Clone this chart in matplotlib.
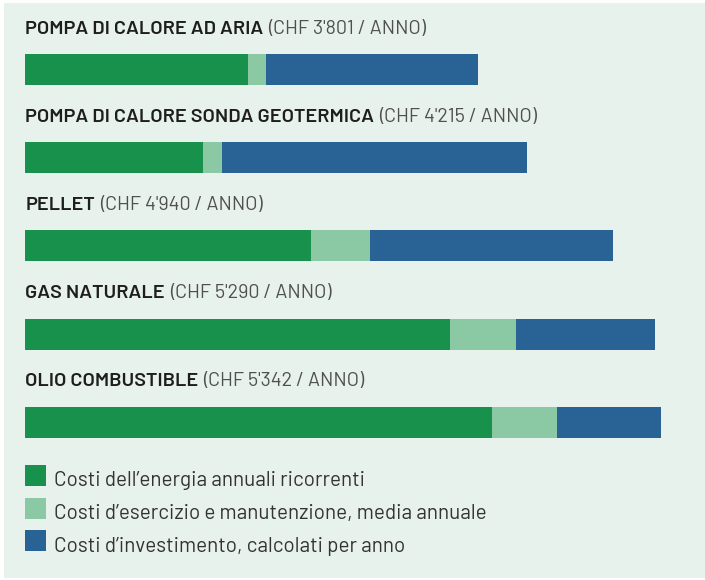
import matplotlib
matplotlib.use("Agg")
import matplotlib.pyplot as plt
from matplotlib.patches import Rectangle

# ---- data ----
categories = ["POMPA DI CALORE AD ARIA",
              "POMPA DI CALORE SONDA GEOTERMICA",
              "PELLET",
              "GAS NATURALE",
              "OLIO COMBUSTIBLE"]
total_labels = ["(CHF 3'801 / ANNO)",
                "(CHF 4'215 / ANNO)",
                "(CHF 4'940 / ANNO)",
                "(CHF 5'290 / ANNO)",
                "(CHF 5'342 / ANNO)"]
energy = [1871, 1496, 2398, 3571, 3919]
maintenance = [151, 155, 501, 555, 546]
investment = [1779, 2564, 2041, 1164, 877]
series_labels = ["Costi dell\u2019energia annuali ricorrenti",
                 "Costi d\u2019esercizio e manutenzione, media annuale",
                 "Costi d\u2019investimento, calcolati per anno"]
series_colors = ["#17914C", "#8AC9A4", "#296294"]

plt.rcParams['font.family'] = ['Barlow', 'Roboto Condensed', 'DejaVu Sans']

W, H = 705, 580
fig = plt.figure(figsize=(W / 100, H / 100), dpi=100)
fig.patch.set_facecolor("white")

# background panel
fig.add_artist(Rectangle((4 / W, 1 - 578 / H), (W - 4) / W, (578 - 3) / H,
                         transform=fig.transFigure, facecolor="#E8F2ED",
                         edgecolor="none", zorder=-10))

x0 = 25.3
px_per_chf = 0.1190
first_c, pitch = 69.5, 88.2
ax = fig.add_axes([x0 / W, 0, 1 - x0 / W, 1])
ax.set_xlim(0, (W - x0) / px_per_chf)
ax.set_ylim((H - first_c) / pitch, -first_c / pitch)
ax.axis("off")
ax.patch.set_alpha(0)

ypos = list(range(len(categories)))
bh = 31 / pitch
left = [0] * len(categories)
for vals, col, lab in zip([energy, maintenance, investment], series_colors, series_labels):
    ax.barh(ypos, vals, left=left, height=bh, color=col, edgecolor="none", label=lab)
    left = [l + v for l, v in zip(left, vals)]

for i, (cat, tl) in enumerate(zip(categories, total_labels)):
    t1 = ax.text(0, i - (15.5 + 20.5) / pitch, cat, fontsize=14.3, fontweight="semibold",
                 color="#1E1E1E", ha="left", va="baseline")
    ax.annotate(tl, xy=(1, 0), xycoords=t1, xytext=(3.5, 0), textcoords="offset points",
                fontsize=14.2, fontweight="normal", color="#505050", ha="left", va="bottom")

# legend (manual)
sq = 21
tops = [464.7, 497.7, 530.3]
for top, col, lab in zip(tops, series_colors, series_labels):
    fig.add_artist(Rectangle((25.3 / W, 1 - (top + sq) / H), sq / W, sq / H,
                             transform=fig.transFigure, facecolor=col, edgecolor="none"))
    fig.text(54.3 / W, 1 - (top + sq + 0.5) / H, lab, fontsize=14.9, color="#333333",
             ha="left", va="baseline")

fig.savefig("out.png", dpi=100, facecolor=fig.get_facecolor())
